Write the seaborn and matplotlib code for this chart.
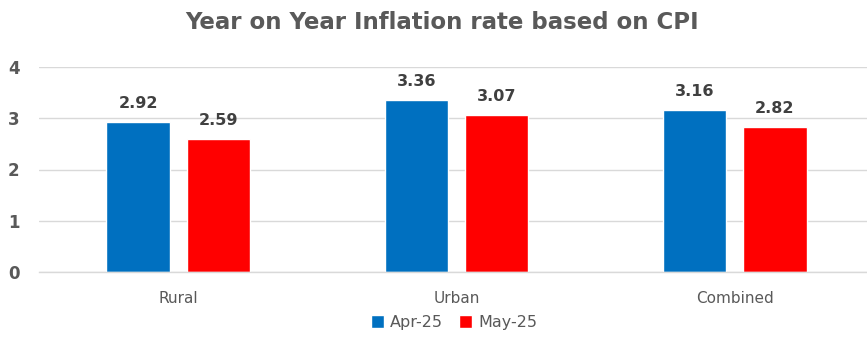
import matplotlib
matplotlib.use("Agg")
import matplotlib.pyplot as plt
import seaborn as sns
import pandas as pd

categories = ["Rural", "Urban", "Combined"]
months = ["Apr-25", "May-25"]
apr_values = [2.92, 3.36, 3.16]
may_values = [2.59, 3.07, 2.82]
colors = ["#0070C0", "#FF0000"]

df = pd.DataFrame({
    "Area": categories * 2,
    "Month": [months[0]] * 3 + [months[1]] * 3,
    "Rate": apr_values + may_values,
})

sns.set_theme(style="white")
plt.rcParams["font.family"] = ["DejaVu Sans"]

fig = plt.figure(figsize=(8.67, 3.54), dpi=100)
ax = fig.add_axes([39 / 867, 82 / 354, 835 / 867, 205 / 354])

sns.barplot(data=df, x="Area", y="Rate", hue="Month", palette=colors,
            width=0.576, gap=0.21, ax=ax, legend=True, saturation=1)

ax.set_xlim(-0.5, 2.5)
ax.set_ylim(0, 4)
ax.set_yticks([0, 1, 2, 3, 4])
ax.yaxis.grid(True, color="#d9d9d9", linewidth=1)
ax.set_axisbelow(True)
for s in ["top", "right", "left"]:
    ax.spines[s].set_visible(False)
ax.spines["bottom"].set_color("#d9d9d9")
ax.spines["bottom"].set_linewidth(1)

ax.set_xlabel("")
ax.set_ylabel("")
ax.tick_params(axis="y", length=0, labelsize=12, labelcolor="#595959", pad=14)
ax.tick_params(axis="x", length=0, labelsize=11, labelcolor="#595959", pad=14)
for lbl in ax.get_yticklabels():
    lbl.set_fontweight("bold")

# small separator ticks between categories
ax.set_xticks([-0.5, 0.5, 1.5], minor=True)
ax.tick_params(axis="x", which="minor", length=5, color="#bfbfbf", width=1)

for container in ax.containers:
    ax.bar_label(container, fmt="%.2f", padding=8, fontsize=11.5,
                 fontweight="bold", color="#404040")

ax.legend(loc="upper center", bbox_to_anchor=(0.497, -0.14), ncol=2,
          frameon=False, fontsize=11.5, handlelength=0.8, handleheight=0.8,
          handletextpad=0.4, columnspacing=1.0, labelcolor="#595959")

fig.suptitle("Year on Year Inflation rate based on CPI", x=0.51, y=0.97,
             fontsize=16.5, fontweight="bold", color="#595959")

fig.savefig("out.png", dpi=100, facecolor="white")
